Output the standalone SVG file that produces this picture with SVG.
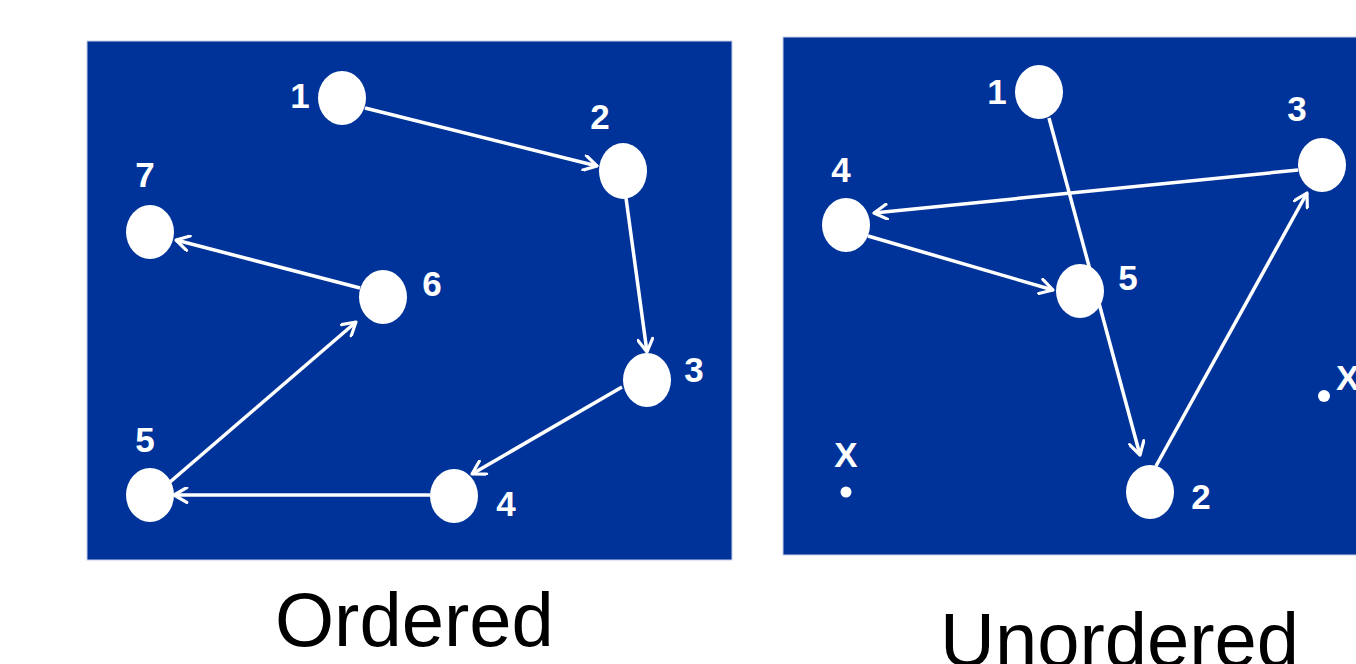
<svg xmlns="http://www.w3.org/2000/svg" width="1356" height="664" viewBox="0 0 1356 664">
  <style>
    .panel { fill: #003399; stroke: #c8d0e8; stroke-width: 1; }
    .node { fill: #ffffff; }
    .lbl { fill: #ffffff; font-family: "Liberation Sans", Arial, sans-serif; font-weight: bold; font-size: 35px; }
    .edge { stroke: #ffffff; stroke-width: 3.5; fill: none; marker-end: url(#arrow); }
    .caption { fill: #000000; font-family: "Liberation Sans", Arial, sans-serif; font-size: 76px; }
  </style>
  <defs>
    <marker id="arrow" viewBox="0 0 16 16" refX="14" refY="8" markerWidth="17" markerHeight="17" orient="auto" markerUnits="userSpaceOnUse">
      <path d="M2,1 L14,8 L2,15" fill="none" stroke="#ffffff" stroke-width="3" stroke-linecap="round" stroke-linejoin="round"/>
    </marker>
  </defs>
  <rect width="1356" height="664" fill="#ffffff"/>

  <!-- Ordered panel -->
  <rect id="panel-ordered" class="panel" x="87" y="41" width="645" height="519"/>
  <g id="ordered-edges">
    <line class="edge" x1="365" y1="108" x2="597" y2="166"/>
    <line class="edge" x1="626" y1="198" x2="647" y2="352"/>
    <line class="edge" x1="622" y1="387" x2="472" y2="474"/>
    <line class="edge" x1="430" y1="495" x2="174" y2="495"/>
    <line class="edge" x1="170" y1="482" x2="356" y2="322"/>
    <line class="edge" x1="360" y1="288" x2="176" y2="240"/>
  </g>
  <g id="o-node-1"><ellipse class="node" cx="342" cy="98" rx="24" ry="27"/><text class="lbl" x="300" y="108" text-anchor="middle">1</text></g>
  <g id="o-node-2"><ellipse class="node" cx="623" cy="171" rx="24" ry="28"/><text class="lbl" x="600" y="129" text-anchor="middle">2</text></g>
  <g id="o-node-3"><ellipse class="node" cx="647" cy="380" rx="24" ry="27"/><text class="lbl" x="694" y="382" text-anchor="middle">3</text></g>
  <g id="o-node-4"><ellipse class="node" cx="454" cy="496" rx="24" ry="27"/><text class="lbl" x="506" y="516" text-anchor="middle">4</text></g>
  <g id="o-node-5"><ellipse class="node" cx="150" cy="495" rx="24" ry="27"/><text class="lbl" x="145" y="452" text-anchor="middle">5</text></g>
  <g id="o-node-6"><ellipse class="node" cx="383" cy="297" rx="24" ry="27"/><text class="lbl" x="432" y="296" text-anchor="middle">6</text></g>
  <g id="o-node-7"><ellipse class="node" cx="150" cy="232" rx="24" ry="27"/><text class="lbl" x="145" y="187" text-anchor="middle">7</text></g>
  <text class="caption" x="275" y="646">Ordered</text>

  <!-- Unordered panel -->
  <rect id="panel-unordered" class="panel" x="783" y="37" width="580" height="518"/>
  <g id="unordered-edges">
    <line class="edge" x1="1049" y1="118" x2="1140" y2="455"/>
    <line class="edge" x1="1156" y1="466" x2="1307" y2="193"/>
    <line class="edge" x1="1298" y1="170" x2="874" y2="213"/>
    <line class="edge" x1="868" y1="236" x2="1053" y2="290"/>
  </g>
  <g id="u-node-1"><ellipse class="node" cx="1039" cy="92" rx="24" ry="27"/><text class="lbl" x="997" y="104" text-anchor="middle">1</text></g>
  <g id="u-node-2"><ellipse class="node" cx="1150" cy="492" rx="24" ry="27"/><text class="lbl" x="1201" y="509" text-anchor="middle">2</text></g>
  <g id="u-node-3"><ellipse class="node" cx="1322" cy="165" rx="24" ry="27"/><text class="lbl" x="1297" y="121" text-anchor="middle">3</text></g>
  <g id="u-node-4"><ellipse class="node" cx="846" cy="225" rx="24" ry="27"/><text class="lbl" x="841" y="182" text-anchor="middle">4</text></g>
  <g id="u-node-5"><ellipse class="node" cx="1080" cy="291" rx="24" ry="27"/><text class="lbl" x="1128" y="290" text-anchor="middle">5</text></g>
  <g id="u-point-x1"><circle class="node" cx="846" cy="492" r="5.5"/><text class="lbl" x="846" y="467" text-anchor="middle">X</text></g>
  <g id="u-point-x2"><circle class="node" cx="1324" cy="396" r="6"/><text class="lbl" x="1336" y="390">X</text></g>
  <text class="caption" x="940" y="666">Unordered</text>
</svg>
